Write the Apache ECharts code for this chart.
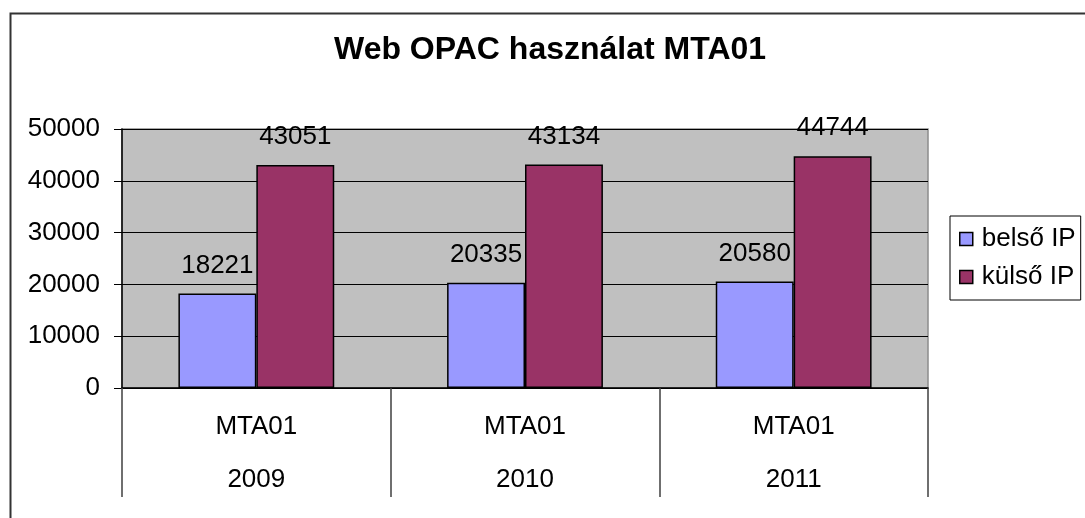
<!DOCTYPE html>
<html>
<head>
<meta charset="utf-8">
<script src="https://cdn.jsdelivr.net/npm/echarts@6/dist/echarts.min.js"></script>
<style>
  html, body { margin: 0; padding: 0; background: #fff; }
  #container { width: 1085px; height: 518px; }
</style>
</head>
<body>
<div id="container"></div>
<script>
var groups = ["MTA01", "MTA01", "MTA01"];
var years = ["2009", "2010", "2011"];
var belso = [18221, 20335, 20580];
var kulso = [43051, 43134, 44744];
var yTicks = [0, 10000, 20000, 30000, 40000, 50000];

var font = "'Liberation Sans', Arial, sans-serif";
var myChart = echarts.init(document.getElementById("container"));

myChart.setOption({
  animation: false,
  textStyle: { fontFamily: font },
  title: {
    text: "Web OPAC használat MTA01",
    left: 334,
    top: 34,
    itemGap: 0,
    padding: 0,
    textStyle: { fontFamily: font, fontSize: 32, fontWeight: "bold", color: "#000" }
  },
  graphic: [
    {
      type: "rect",
      left: 8,
      top: 11,
      shape: { width: 1200, height: 600 },
      style: { fill: "none", stroke: "#333", lineWidth: 2 },
      z: -10
    }
  ],
  legend: {
    orient: "vertical",
    left: 950,
    top: 216,
    padding: [10, 5, 10, 9],
    itemGap: 12,
    itemWidth: 13,
    itemHeight: 13,
    icon: "rect",
    borderColor: "#000",
    borderWidth: 1,
    itemStyle: { borderColor: "#000", borderWidth: 1.5 },
    textStyle: { fontFamily: font, fontSize: 26, color: "#000", padding: [0, 0, 0, 4] },
    data: ["belső IP", "külső IP"]
  },
  grid: {
    left: 122,
    top: 129,
    right: 157,
    bottom: 130,
    show: true,
    backgroundColor: "#C0C0C0",
    borderColor: "#8c8c8c",
    borderWidth: 1.5
  },
  xAxis: {
    type: "category",
    data: years,
    axisLine: { lineStyle: { color: "#000", width: 1.5 } },
    axisTick: {
      show: true,
      length: 109,
      lineStyle: { color: "#404040", width: 1.5 }
    },
    axisLabel: {
      margin: 12,
      lineHeight: 53,
      fontSize: 26,
      color: "#000",
      fontFamily: font,
      formatter: function (value, index) {
        return groups[index] + "\n" + value;
      }
    }
  },
  yAxis: {
    type: "value",
    min: yTicks[0],
    max: yTicks[yTicks.length - 1],
    interval: yTicks[1] - yTicks[0],
    axisLine: { show: true, lineStyle: { color: "#000", width: 1.5 } },
    axisTick: { show: true, length: 8, lineStyle: { color: "#000", width: 1 } },
    axisLabel: {
      margin: 22,
      fontSize: 26,
      color: "#000",
      fontFamily: font,
      formatter: function (v) { return String(v); }
    },
    splitLine: { show: true, lineStyle: { color: "#000", width: 1 } }
  },
  series: [
    {
      name: "belső IP",
      type: "bar",
      data: belso,
      barGap: "0%",
      barCategoryGap: "42%",
      itemStyle: { color: "#9999FF", borderColor: "#000", borderWidth: 1.5 },
      label: { show: true, position: "top", distance: 15, fontSize: 26, color: "#000", fontFamily: font }
    },
    {
      name: "külső IP",
      type: "bar",
      data: kulso,
      barGap: "0%",
      barCategoryGap: "42%",
      itemStyle: { color: "#993366", borderColor: "#000", borderWidth: 1.5 },
      label: { show: true, position: "top", distance: 15, fontSize: 26, color: "#000", fontFamily: font }
    }
  ]
});
</script>
</body>
</html>
